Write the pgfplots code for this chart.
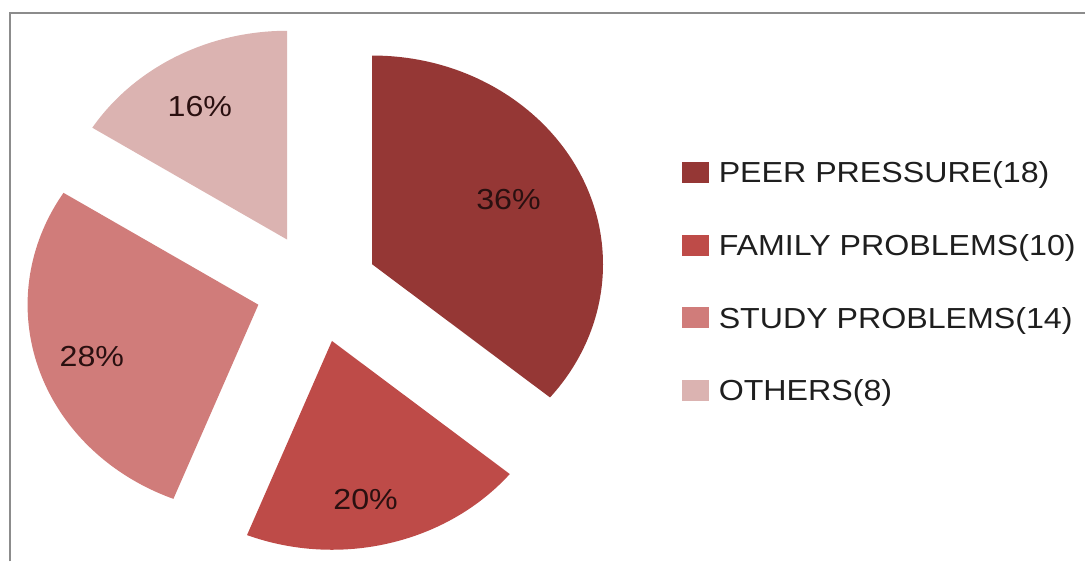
\documentclass[border=0pt]{standalone}
\usepackage{pgfplots}
\pgfplotsset{compat=1.18}
\usepackage{pgfplotstable}
\usepackage{fontspec}
\setmainfont{Liberation Sans}
\usetikzlibrary{calc}

\definecolor{cpeer}{HTML}{953735}
\definecolor{cfamily}{HTML}{BE4B48}
\definecolor{cstudy}{HTML}{D07C7A}
\definecolor{cothers}{HTML}{DBB3B1}
\definecolor{cframe}{HTML}{8C8C8C}
\definecolor{ctxt}{HTML}{1E1E1E}
\definecolor{cpct}{HTML}{2A1010}

% value, colour, label position (pixels), legend text
\pgfplotstableread[col sep=comma]{
value,col,lx,ly,name
18,cpeer,509,200,PEER PRESSURE(18)
10,cfamily,366,500,FAMILY PROBLEMS(10)
14,cstudy,92,357,STUDY PROBLEMS(14)
8,cothers,200,107,OTHERS(8)
}\slices

\begin{document}
\begin{tikzpicture}
\begin{axis}[
  width=543pt, height=281pt, scale only axis,
  xmin=0, xmax=1086, ymin=0, ymax=562, y dir=reverse,
  hide axis, clip=false,
]
  \path (axis cs:0,0) rectangle (axis cs:1086,562);
  % frame (cut by the picture at right and bottom)
  \draw[cframe, line width=1pt] (axis cs:10.5,562) -- (axis cs:10.5,13) -- (axis cs:1086,13);

  \def\astart{90}
  \pgfplotsforeachungrouped \i in {0,...,3}{
    \pgfplotstablegetelem{\i}{value}\of\slices \let\v\pgfplotsretval
    \pgfplotstablegetelem{\i}{col}\of\slices \let\c\pgfplotsretval
    \pgfplotstablegetelem{\i}{lx}\of\slices \let\lx\pgfplotsretval
    \pgfplotstablegetelem{\i}{ly}\of\slices \let\ly\pgfplotsretval
    \pgfplotstablegetelem{\i}{name}\of\slices \let\nm\pgfplotsretval
    \pgfmathsetmacro\aend{\astart-360*\v/50}
    \pgfmathsetmacro\amid{(\astart+\aend)/2}
    \pgfmathtruncatemacro\pct{round(100*\v/50)}
    \pgfmathsetmacro\legy{172.5+72.8*\i}
    \edef\temp{%
      \noexpand\fill[\c] ($(axis cs:317,288)+(\amid:30.7pt and 27.5pt)$)
        -- ++(\astart:115.5pt and 104.5pt)
        arc[start angle=\astart, end angle=\aend, x radius=115.5pt, y radius=104.5pt]
        -- cycle;
      \noexpand\node[cpct, xscale=1.11, font=\noexpand\fontsize{14.5}{17}\noexpand\selectfont]
        at (axis cs:\lx,\ly) {\pct\noexpand\%};
      \noexpand\fill[\c] (axis cs:683,\legy-10.5) rectangle (axis cs:710,\legy+10.5);
      \noexpand\node[ctxt, anchor=base west, inner sep=0pt, xscale=1.11,
        font=\noexpand\fontsize{14.5}{17}\noexpand\selectfont]
        at (axis cs:719,\legy+10.3) {\nm};
    }
    \temp
    \global\let\astart\aend
  }
\end{axis}
\end{tikzpicture}
\end{document}
